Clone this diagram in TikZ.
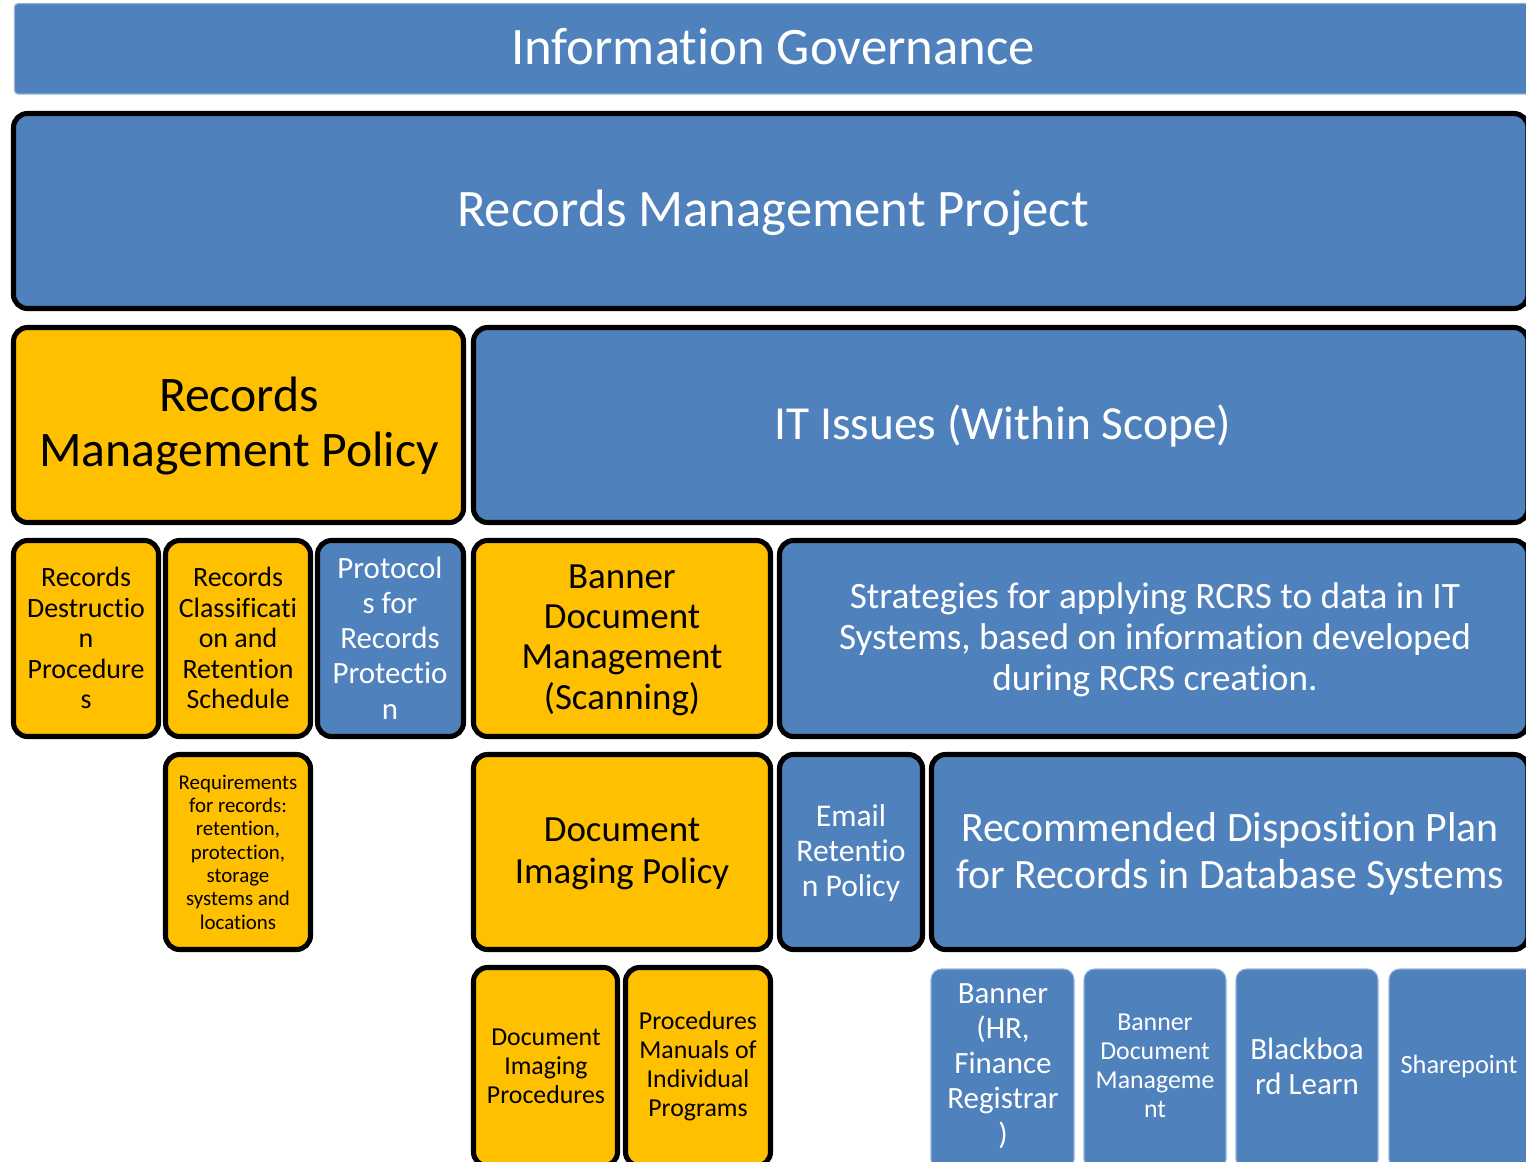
\documentclass[tikz,border=0pt]{standalone}
\usepackage{fontspec}
\setmainfont{Carlito}[Ligatures=NoCommon]

\definecolor{govblue}{HTML}{4F81BD}
\definecolor{polyellow}{HTML}{FFC000}

\tikzset{
  ycell/.style={fill=polyellow,draw=black,line width=2.9pt,rounded corners=8pt},
  bcell/.style={fill=govblue,draw=black,line width=2.9pt,rounded corners=8pt},
  scell/.style={fill=govblue,draw=govblue!60!white,line width=0.6pt,rounded corners=6pt},
  dtext/.style={align=center,text=black,inner sep=0pt},
  wtext/.style={align=center,text=white,inner sep=0pt},
}

\begin{document}
\begin{tikzpicture}[x=0.02cm,y=-0.02cm,line join=round]
  \useasboundingbox (0,0) rectangle (1526,1161);
  \clip (0,0) rectangle (1526,1161);

  % top bands
  \draw[fill=govblue,draw=govblue!60!white,line width=0.6pt,rounded corners=2pt] (14.5,3.5) rectangle (1540,94);
  \node[wtext,font=\fontsize{30}{33}\selectfont] (gov) at (773,47) {Information Governance};
  \draw[bcell] (13.5,113.5) rectangle (1528,308.5);
  \node[wtext,font=\fontsize{30}{33}\selectfont] (project) at (773,213) {Records Management Project};

  % policy / IT split
  \draw[ycell] (13.5,327.5) rectangle (463.5,522.5);
  \node[dtext,font=\fontsize{28.3}{31}\selectfont] (policy) at (239,426) {Records\\Management Policy};
  \draw[bcell] (473.5,327.5) rectangle (1528,522.5);
  \node[wtext,font=\fontsize{27}{30}\selectfont] (itissues) at (1003,426) {IT Issues (Within Scope)};

  % third row
  \draw[ycell] (13.5,540.5) rectangle (158.5,736.5);
  \node[dtext,font=\fontsize{15.9}{17.3}\selectfont] (destruct) at (86,638) {Records\\Destructio\\n\\Procedure\\s};
  \draw[ycell] (165.5,540.5) rectangle (310.5,736.5);
  \node[dtext,font=\fontsize{15.9}{17.3}\selectfont] (rcrs) at (238,638) {Records\\Classificati\\on and\\Retention\\Schedule};
  \draw[bcell] (317.5,540.5) rectangle (463.5,736.5);
  \node[wtext,font=\fontsize{17.6}{20}\selectfont] (protect) at (390,638) {Protocol\\s for\\Records\\Protectio\\n};
  \draw[ycell] (473.5,540.5) rectangle (770.5,736.5);
  \node[dtext,font=\fontsize{21}{22.9}\selectfont] (scanning) at (622,640) {Banner\\Document\\Management\\(Scanning)};
  \draw[bcell] (779.5,540.5) rectangle (1528,736.5);
  \node[wtext,font=\fontsize{21.2}{23.2}\selectfont] (strategy) at (1155,640) {Strategies for applying RCRS to data in IT\\Systems, based on information developed\\during RCRS creation.};

  % fourth row
  \draw[ycell] (165.5,754.5) rectangle (310.5,949.5);
  \node[dtext,font=\fontsize{11.9}{13.3}\selectfont] (require) at (238,852) {Requirements\\for records:\\retention,\\protection,\\storage\\systems and\\locations};
  \draw[ycell] (473.5,754.5) rectangle (770.5,949.5);
  \node[dtext,font=\fontsize{21}{23.8}\selectfont] (imgpolicy) at (622,854) {Document\\Imaging Policy};
  \draw[bcell] (779.5,754.5) rectangle (922.5,949.5);
  \node[wtext,font=\fontsize{18}{19.8}\selectfont] (email) at (851,853) {Email\\Retentio\\n Policy};
  \draw[bcell] (931.5,754.5) rectangle (1528,949.5);
  \node[wtext,font=\fontsize{23.8}{26.6}\selectfont] (disposal) at (1230,854) {Recommended Disposition Plan\\for Records in Database Systems};

  % bottom row
  \draw[ycell] (473.5,967.5) rectangle (617.5,1166);
  \node[dtext,font=\fontsize{14.7}{16.4}\selectfont] (imgproc) at (546,1066) {Document\\Imaging\\Procedures};
  \draw[ycell] (625.5,967.5) rectangle (770.5,1166);
  \node[dtext,font=\fontsize{14.7}{16.6}\selectfont] (manuals) at (698,1066) {Procedures\\Manuals of\\Individual\\Programs};
  \draw[scell] (931,969) rectangle (1074,1170);
  \node[wtext,font=\fontsize{17.6}{20}\selectfont] (bannerhr) at (1003,1066) {Banner\\(HR,\\Finance\\Registrar\\)};
  \draw[scell] (1084,969) rectangle (1226,1170);
  \node[wtext,font=\fontsize{14.7}{16.6}\selectfont] (bannerdm) at (1155,1066) {Banner\\Document\\Manageme\\nt};
  \draw[scell] (1236,969) rectangle (1378,1170);
  \node[wtext,font=\fontsize{17.6}{20}\selectfont] (blackboard) at (1307,1066) {Blackboa\\rd Learn};
  \draw[scell] (1389,969) rectangle (1535,1170);
  \node[wtext,font=\fontsize{15}{17}\selectfont] (sharepoint) at (1459,1066) {Sharepoint};
\end{tikzpicture}
\end{document}
